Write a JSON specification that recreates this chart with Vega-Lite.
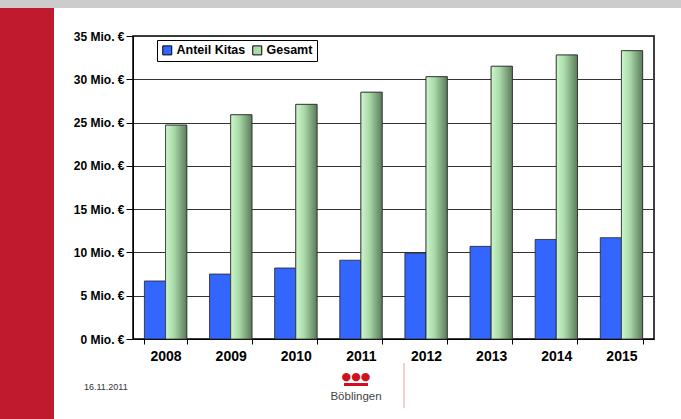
{
  "$schema": "https://vega.github.io/schema/vega-lite/v6.json",
  "width": 521,
  "height": 303,
  "autosize": {"type": "none"},
  "padding": {"left": 133, "top": 36, "right": 27, "bottom": 80},
  "background": "white",
  "config": {
    "font": "Liberation Sans",
    "view": {"stroke": "black", "strokeWidth": 1.5},
    "axis": {"labelFont": "Liberation Sans", "labelFontWeight": "bold", "labelColor": "black", "domainColor": "black", "tickColor": "black", "title": null}
  },
  "datasets": {
    "bars": [
      {"year": "2008", "series": "Anteil Kitas", "value": 6.7},
      {"year": "2009", "series": "Anteil Kitas", "value": 7.5},
      {"year": "2010", "series": "Anteil Kitas", "value": 8.2},
      {"year": "2011", "series": "Anteil Kitas", "value": 9.1},
      {"year": "2012", "series": "Anteil Kitas", "value": 9.9},
      {"year": "2013", "series": "Anteil Kitas", "value": 10.7},
      {"year": "2014", "series": "Anteil Kitas", "value": 11.5},
      {"year": "2015", "series": "Anteil Kitas", "value": 11.7},
      {"year": "2008", "series": "Gesamt", "value": 24.7},
      {"year": "2009", "series": "Gesamt", "value": 25.9},
      {"year": "2010", "series": "Gesamt", "value": 27.1},
      {"year": "2011", "series": "Gesamt", "value": 28.5},
      {"year": "2012", "series": "Gesamt", "value": 30.3},
      {"year": "2013", "series": "Gesamt", "value": 31.5},
      {"year": "2014", "series": "Gesamt", "value": 32.8},
      {"year": "2015", "series": "Gesamt", "value": 33.3}
    ]
  },
  "layer": [
    {
      "data": {"name": "bars"},
      "mark": {"type": "bar", "stroke": "#222222", "strokeWidth": 0.8},
      "encoding": {
        "x": {"field": "year", "type": "ordinal", "scale": {"paddingInner": 0.35, "paddingOuter": 0.175},
          "axis": {"labelAngle": 0, "labelFontSize": 14, "tickBand": "extent", "tickSize": 5, "labelPadding": 5, "domainWidth": 1}},
        "xOffset": {"field": "series", "type": "nominal", "scale": {"domain": ["Anteil Kitas", "Gesamt"], "paddingInner": 0, "paddingOuter": 0}},
        "y": {"field": "value", "type": "quantitative", "scale": {"domain": [0, 35], "nice": false},
          "axis": {"values": [0, 5, 10, 15, 20, 25, 30, 35], "labelExpr": "datum.value + ' Mio. €'", "labelFontSize": 12, "tickSize": 7, "labelPadding": 2, "gridColor": "#333333", "gridWidth": 1, "grid": true}},
        "color": {"field": "series", "type": "nominal", "scale": {"domain": ["Anteil Kitas", "Gesamt"], "range": ["#3366ff", "#a8dca8"]},
          "legend": {"title": null, "orient": "none", "legendX": 24, "legendY": 4, "direction": "horizontal", "columns": 2,
            "padding": 4, "strokeColor": "black", "fillColor": "white", "symbolType": "square", "symbolSize": 81,
            "symbolStrokeColor": "black", "symbolStrokeWidth": 1, "labelFontSize": 12.5, "labelFontWeight": "bold", "labelFont": "Liberation Sans",
            "labelColor": "black", "columnPadding": 4, "labelOffset": 3}}
      }
    },
    {
      "data": {"name": "bars"},
      "transform": [{"filter": "datum.series == 'Gesamt'"}],
      "mark": {"type": "bar", "stroke": "#333333", "strokeWidth": 0.8,
        "color": {"gradient": "linear", "x1": 0, "x2": 1, "y1": 0, "y2": 0,
          "stops": [{"offset": 0, "color": "#ccf7cc"}, {"offset": 0.4, "color": "#a9d9a9"}, {"offset": 1, "color": "#5b7b5b"}]}},
      "encoding": {
        "x": {"field": "year", "type": "ordinal"},
        "xOffset": {"field": "series", "type": "nominal"},
        "y": {"field": "value", "type": "quantitative"}
      }
    },
    {
      "data": {"values": [{"part": "top"}]},
      "mark": {"type": "rect", "color": "#cccccc", "clip": false},
      "encoding": {"x": {"value": -133}, "x2": {"value": 548}, "y": {"value": -36}, "y2": {"value": -28}}
    },
    {
      "data": {"values": [{"part": "side"}]},
      "mark": {"type": "rect", "color": "#c01a2e", "clip": false},
      "encoding": {"x": {"value": -133}, "x2": {"value": -79}, "y": {"value": -28}, "y2": {"value": 383}}
    },
    {
      "data": {"values": [{"part": "underline"}]},
      "mark": {"type": "rect", "color": "#d0101e", "clip": false},
      "encoding": {"x": {"value": 211}, "x2": {"value": 235}, "y": {"value": 347}, "y2": {"value": 350}}
    },
    {
      "data": {"values": [{"t": "16.11.2011"}]},
      "mark": {"type": "text", "align": "left", "baseline": "middle", "fontSize": 9, "color": "#333333", "font": "Liberation Sans"},
      "encoding": {"text": {"field": "t"}, "x": {"value": -49}, "y": {"value": 351}}
    },
    {
      "data": {"values": [{"t": "Böblingen"}]},
      "mark": {"type": "text", "align": "center", "baseline": "middle", "fontSize": 11.5, "color": "#444444", "font": "Liberation Sans"},
      "encoding": {"text": {"field": "t"}, "x": {"value": 223}, "y": {"value": 361}}
    },
    {
      "data": {"values": [{"t": "●●●"}]},
      "mark": {"type": "text", "align": "center", "baseline": "middle", "fontSize": 11, "color": "#d0101e", "font": "DejaVu Sans"},
      "encoding": {"text": {"field": "t"}, "x": {"value": 223}, "y": {"value": 341}}
    },
    {
      "data": {"values": [{"part": "divider"}]},
      "mark": {"type": "rule", "color": "#f0a0a8", "strokeWidth": 1},
      "encoding": {"x": {"value": 271}, "x2": {"value": 271}, "y": {"value": 327}, "y2": {"value": 372}}
    }
  ]
}
